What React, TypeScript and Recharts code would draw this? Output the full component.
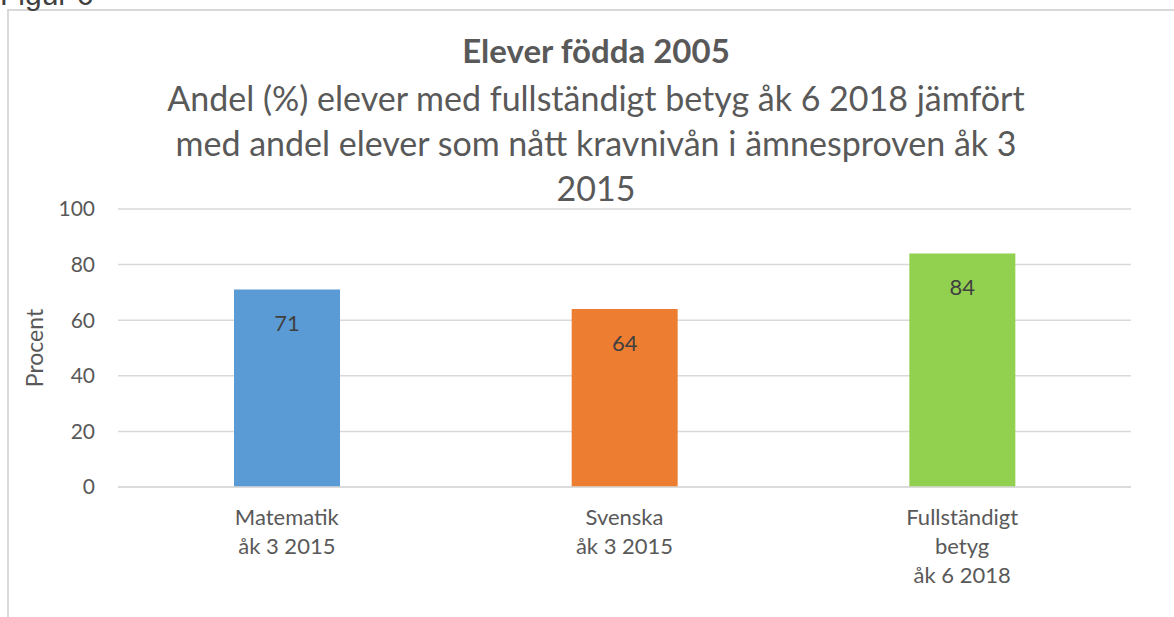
import { BarChart, Bar, XAxis, YAxis, CartesianGrid, Cell, LabelList, Label } from "recharts";

const categories = ["Matematik\nåk 3 2015", "Svenska\nåk 3 2015", "Fullständigt\nbetyg\nåk 6 2018"];
const values = [71, 64, 84];
const yTicks = [0, 20, 40, 60, 80, 100];
const titleLines = ["Elever födda 2005"];
const subtitleLines = [
  "Andel (%) elever med fullständigt betyg åk 6 2018 jämfört",
  "med andel elever som nått kravnivån i ämnesproven åk 3",
  "2015",
];

const BAR_COLORS = ["#5B9BD5", "#ED7D31", "#92D050"];
const FONT = "Lato, 'Open Sans', sans-serif";

const data = categories.map((name, i) => ({ name, value: values[i] }));

function CategoryTick(props: any) {
  const { x, y, payload } = props;
  const lines = String(payload.value).split("\n");
  return (
    <text x={x} y={y} textAnchor="middle" fill="#595959" fontSize={22} fontFamily={FONT}>
      {lines.map((line, i) => (
        <tspan key={i} x={x} dy={i === 0 ? 38 : 29}>
          {line}
        </tspan>
      ))}
    </text>
  );
}

export default function App() {
  return (
    <div
      style={{
        position: "absolute",
        left: 0,
        top: 0,
        width: 1174,
        height: 617,
        background: "#fff",
        overflow: "hidden",
        fontFamily: FONT,
      }}
    >
      {/* frame of the chart object */}
      <div style={{ position: "absolute", left: 7, top: 9, width: 1200, height: 700, borderLeft: "2px solid #d9d9d9", borderTop: "2px solid #d9d9d9" }} />
      <svg width={1174} height={617} style={{ position: "absolute", left: 0, top: 0 }}>
        <text x={0} y={5} fontSize={30} fill="#404040" fontFamily="'Liberation Sans', Arial, sans-serif">
          Figur 6
        </text>
        {titleLines.map((t, i) => (
          <text key={t} x={596} y={63 + i * 40} textAnchor="middle" fontSize={33} fontWeight="bold" fill="#595959" fontFamily={FONT}>
            {t}
          </text>
        ))}
        {subtitleLines.map((t, i) => (
          <text key={t} x={596} y={111 + i * 45} textAnchor="middle" fontSize={34} fill="#595959" fontFamily={FONT}>
            {t}
          </text>
        ))}
      </svg>
      <div style={{ position: "absolute", left: 0, top: 0 }}>
        <BarChart width={1174} height={617} data={data} margin={{ top: 209, right: 43, bottom: 30, left: 58 }}>
          <CartesianGrid vertical={false} stroke="#d9d9d9" strokeWidth={1.5} />
          <XAxis
            dataKey="name"
            height={100}
            axisLine={{ stroke: "#d9d9d9", strokeWidth: 1.5 }}
            tickLine={false}
            tickSize={0}
            tickMargin={0}
            interval={0}
            tick={<CategoryTick />}
          />
          <YAxis
            width={60}
            domain={[0, 100]}
            ticks={yTicks}
            axisLine={false}
            tickLine={false}
            tickSize={0}
            tickMargin={23}
            tick={{ fill: "#595959", fontSize: 21, fontFamily: FONT }}
          >
            <Label value="Procent" angle={-90} position="center" dx={-53} fill="#595959" fontSize={23} fontFamily={FONT} />
          </YAxis>
          <Bar dataKey="value" barSize={106} isAnimationActive={false}>
            {data.map((d, i) => (
              <Cell key={d.name} fill={BAR_COLORS[i]} />
            ))}
            <LabelList dataKey="value" position="insideTop" offset={26} fill="#404040" fontSize={22} fontFamily={FONT} />
          </Bar>
        </BarChart>
      </div>
    </div>
  );
}
